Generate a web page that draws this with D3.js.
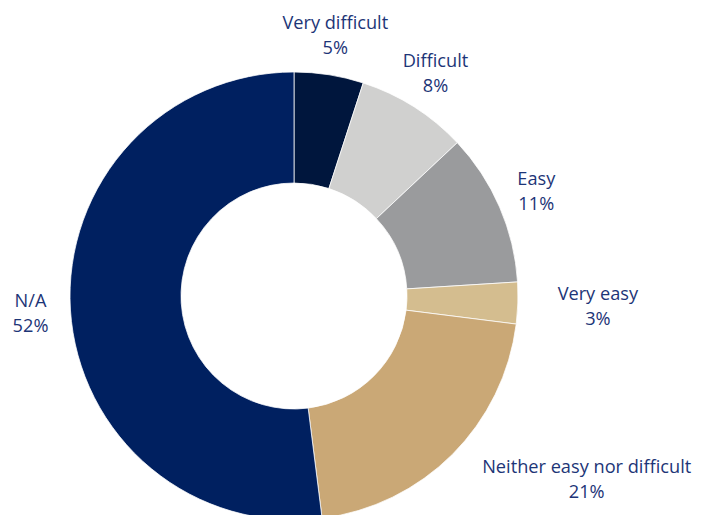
<!DOCTYPE html>
<html>
<head>
<meta charset="utf-8">
<script src="https://cdn.jsdelivr.net/npm/d3@7/dist/d3.min.js"></script>
<style>
  html, body { margin: 0; padding: 0; background: #ffffff; }
  svg { display: block; }
  text { font-family: "Open Sans", sans-serif; }
</style>
</head>
<body>
<svg id="chart" width="715" height="515"></svg>
<script>
// Survey responses, clockwise from 12 o'clock
const categories = ["Very difficult", "Difficult", "Easy", "Very easy", "Neither easy nor difficult", "N/A"];
const values = [5, 8, 11, 3, 21, 52];
const colors = ["#00163d", "#d0d0cf", "#9a9b9d", "#d4bd8f", "#caa876", "#002060"];
// Nudges for labels that would otherwise crowd their neighbours
const labelNudgeX = [0, 0, 0, 0, 106, 0];
const labelNudgeY = [0, 0, 0, 0, -4, 0];
const labelExtraRadius = [0, 0, 0, 40, 0, 0];

const width = 715, height = 515;
const cx = 294, cy = 296;
const outerR = 224, innerR = 113, labelR = 264;

const svg = d3.select("#chart");
const g = svg.append("g").attr("transform", `translate(${cx},${cy})`);

const pie = d3.pie().sort(null).value(d => d.value);
const data = categories.map((c, i) => ({ name: c, value: values[i], i }));
const arcs = pie(data);

const arc = d3.arc().innerRadius(innerR).outerRadius(outerR);

g.selectAll("path.slice")
  .data(arcs)
  .join("path")
  .attr("class", "slice")
  .attr("d", arc)
  .attr("fill", d => colors[d.data.i])
  .attr("stroke", "#ffffff")
  .attr("stroke-width", 0.75);

const lbl = g.selectAll("g.label")
  .data(arcs)
  .join("g")
  .attr("class", "label")
  .attr("transform", d => {
    const r = labelR + labelExtraRadius[d.data.i];
    const [x, y] = d3.arc().innerRadius(r).outerRadius(r).centroid(d);
    return `translate(${x + labelNudgeX[d.data.i]},${y + labelNudgeY[d.data.i]})`;
  });

lbl.append("text")
  .attr("text-anchor", "middle")
  .attr("fill", "#1d3577")
  .attr("font-size", 18.2)
  .attr("y", -6)
  .text(d => d.data.name);

lbl.append("text")
  .attr("text-anchor", "middle")
  .attr("fill", "#1d3577")
  .attr("font-size", 18.2)
  .attr("y", 19)
  .text(d => d.data.value + "%");
</script>
</body>
</html>
